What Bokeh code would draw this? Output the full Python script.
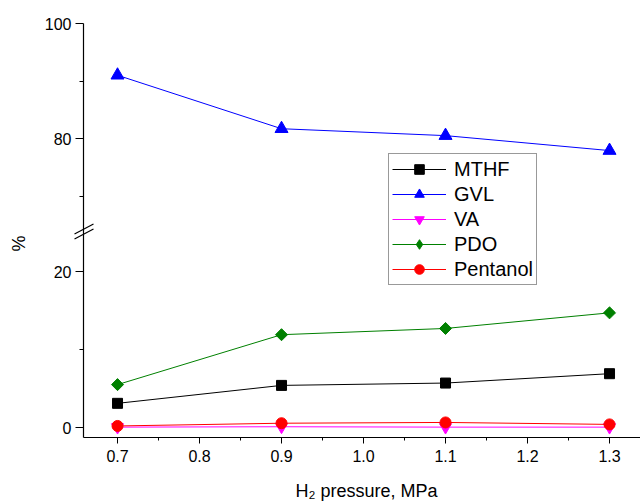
import math

from bokeh.plotting import figure
from bokeh.models import Range1d, FixedTicker, Legend, LegendItem, Label
from bokeh.embed import file_html
from bokeh.resources import INLINE

# H2 pressure (MPa) and product distribution (%)
pressure = [0.7, 0.9, 1.1, 1.3]
mthf = [3.1, 5.4, 5.7, 6.9]
gvl = [91.0, 81.7, 80.5, 77.9]
va = [0.05, 0.1, 0.05, 0.05]
pdo = [5.5, 11.9, 12.7, 14.7]
pentanol = [0.2, 0.55, 0.65, 0.4]

x_major = [0.7, 0.8, 0.9, 1.0, 1.1, 1.2, 1.3]
x_minor = [0.75, 0.85, 0.95, 1.05, 1.15, 1.25, 1.35]
low_major = [0, 20]
low_minor = [10]
high_major = [80, 100]
high_minor = [70, 90]

W, H = 640, 502
FONT = "Liberation Sans"

# axes placement (canvas pixels) and scales
AXIS_X_PX, AXIS_Y_PX = 83, 437     # where the two axes cross
X_AXIS_START = 0.6585              # MPa at the y axis
Y_AXIS_START = -1.28               # % at the x axis
PX_X = 820.0                       # pixels per MPa
PX_LO = 7.8                        # pixels per % on the lower segment
PX_HI = 5.75                       # pixels per % on the upper segment
HI_TOP, HI_TOP_PX = 100.0, 23      # top of the upper segment

x_start = X_AXIS_START - AXIS_X_PX / PX_X
x_end = X_AXIS_START + (W - AXIS_X_PX) / PX_X
lo_start = Y_AXIS_START - (H - AXIS_Y_PX) / PX_LO
lo_end = lo_start + H / PX_LO
hi_end = HI_TOP + HI_TOP_PX / PX_HI
hi_start = hi_end - H / PX_HI


def to_low(v):
    """Position of an upper-segment value on the lower-segment scale."""
    return round(lo_start + (v - hi_start) * PX_HI / PX_LO, 6)


def px_to_data(px, py):
    return x_start + px / PX_X, lo_start + (H - py) / PX_LO


p = figure(width=W, height=H, output_backend="svg", toolbar_location=None,
           x_range=Range1d(x_start, x_end), y_range=Range1d(lo_start, lo_end),
           min_border=0)
p.extra_y_ranges = {"upper": Range1d(hi_start, hi_end)}
p.outline_line_color = None
p.grid.visible = False
p.background_fill_color = "white"
p.border_fill_color = "white"

# name, values, colour, marker, size, angle, range
series = [
    ("MTHF", mthf, "black", "square", 10, 0.0, "default"),
    ("GVL", gvl, "#0000FF", "triangle", 13, 0.0, "upper"),
    ("VA", va, "#FF00FF", "inverted_triangle", 12, 0.0, "default"),
    ("PDO", pdo, "#008000", "square", 8.5, math.pi / 4, "default"),
    ("Pentanol", pentanol, "#FF0000", "circle", 11, 0.0, "default"),
]

items = []
for name, vals, color, marker, size, ang, rng in series:
    ln = p.line(pressure, vals, line_color=color, line_width=1, y_range_name=rng)
    sc = p.scatter(pressure, vals, marker=marker, size=size, angle=ang,
                   fill_color=color, line_color=color, y_range_name=rng)
    if ang:
        # legend swatch for the rotated square
        sc = p.scatter([float("nan")], [float("nan")], marker="diamond", size=size,
                       fill_color=color, line_color=color)
    items.append(LegendItem(label=name, renderers=[ln, sc]))

legend = Legend(items=items, location=(388, H - 285), glyph_width=54, glyph_height=24,
                label_text_font=FONT, label_text_font_size="20px",
                label_text_color="black", label_standoff=8, spacing=1,
                padding=3, margin=0,
                border_line_color="#333333", border_line_width=1,
                background_fill_color="white", background_fill_alpha=1)
p.add_layout(legend, "center")

# x axis, starting at the y axis
xa = p.xaxis[0]
xa.fixed_location = Y_AXIS_START
xa.bounds = (X_AXIS_START, x_end)
xa.ticker = FixedTicker(ticks=x_major, minor_ticks=x_minor)
xa.major_label_text_font = FONT
xa.major_label_text_font_size = "16px"
xa.major_label_text_color = "black"
xa.major_label_standoff = 6
xa.major_tick_out = 6
xa.major_tick_in = 0
xa.minor_tick_out = 3
xa.minor_tick_in = 0
xa.axis_line_width = 1.2
xa.axis_line_color = "black"
xa.major_tick_line_color = "black"
xa.minor_tick_line_color = "black"
xa.major_label_overrides = {v: f"{v:.1f}" for v in x_major}

# y axis: one continuous line, labels for both segments
ya = p.yaxis[0]
ya.fixed_location = X_AXIS_START
ya.bounds = (Y_AXIS_START, to_low(HI_TOP))
ticks = list(low_major) + [to_low(v) for v in high_major]
minors = list(low_minor) + [to_low(v) for v in high_minor]
ya.ticker = FixedTicker(ticks=ticks, minor_ticks=minors)
overrides = {v: str(v) for v in low_major}
overrides.update({to_low(v): str(v) for v in high_major})
ya.major_label_overrides = overrides
ya.major_label_text_font = FONT
ya.major_label_text_font_size = "16px"
ya.major_label_text_color = "black"
ya.major_label_standoff = 4
ya.major_tick_out = 8
ya.major_tick_in = 0
ya.minor_tick_out = 4
ya.minor_tick_in = 0
ya.axis_line_width = 1.2
ya.axis_line_color = "black"
ya.major_tick_line_color = "black"
ya.minor_tick_line_color = "black"

# axis titles
lx, ly = px_to_data(366, 490)
p.add_layout(Label(x=lx, y=ly, text="H\u2082 pressure, MPa", text_font=FONT,
                   text_font_size="18px", text_color="black",
                   text_align="center", text_baseline="middle"))
lx, ly = px_to_data(18, 243)
p.add_layout(Label(x=lx, y=ly, text="%", angle=math.pi / 2, text_font=FONT,
                   text_font_size="18px", text_color="black",
                   text_align="center", text_baseline="middle"))

# break marks across the y axis, offsets given in pixels from the break point
y_break = Y_AXIS_START + (AXIS_Y_PX - 231) / PX_LO
x0s, y0s, x1s, y1s = [], [], [], []
for off in (-2.5, 2.5):
    x0s.append(X_AXIS_START - 9 / PX_X)
    y0s.append(y_break + (-5 + off) / PX_LO)
    x1s.append(X_AXIS_START + 10 / PX_X)
    y1s.append(y_break + (5 + off) / PX_LO)
p.segment(x0s, y0s, x1s, y1s, line_color="black", line_width=1.2)

open("out.html", "w").write(file_html(p, INLINE))
